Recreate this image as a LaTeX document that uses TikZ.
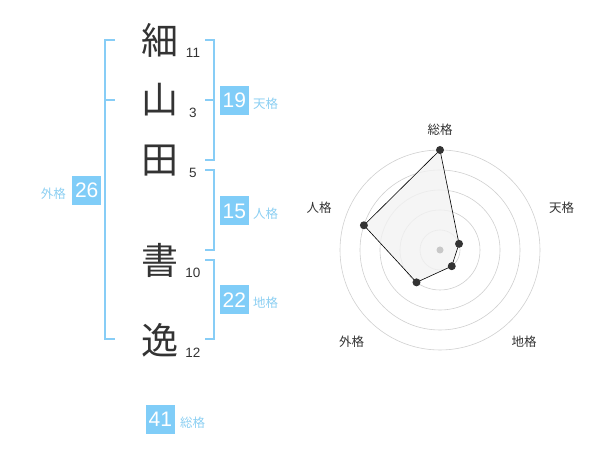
\documentclass[tikz,border=0pt]{standalone}
\usepackage{fontspec}
\setmainfont{Liberation Sans}
\newfontfamily\jp{Noto Sans CJK JP}
\usepackage{tikz}
\usetikzlibrary{positioning}

\definecolor{textgray}{HTML}{333333}
\definecolor{boxblue}{HTML}{80CDF8}
\definecolor{lblblue}{HTML}{8CCFF2}
\definecolor{brblue}{HTML}{87CDF6}
\definecolor{ringgray}{HTML}{CFCFCF}
\definecolor{fillgray}{HTML}{F2F2F2}
\definecolor{dotgray}{HTML}{C8C8C8}

\tikzset{
  kanji/.style={text=textgray, inner sep=0pt, font=\jp\fontsize{37}{37}\selectfont},
  strokes/.style={text=textgray, inner sep=0pt, font=\fontsize{13.5}{13.5}\selectfont},
  scorebox/.style={fill=boxblue, text=white, minimum size=29pt, inner sep=0pt, font=\fontsize{21}{21}\selectfont},
  scorelabel/.style={text=lblblue, inner sep=0pt, font=\jp\fontsize{12.5}{12.5}\selectfont},
  bracket/.style={draw=brblue, line width=2pt},
  ring/.style={draw=ringgray, line width=0.6pt},
  axislabel/.style={text=textgray, inner sep=0pt, font=\jp\fontsize{12.5}{12.5}\selectfont},
  score/.style={circle, fill=textgray, minimum size=8pt, inner sep=0pt},
}

\begin{document}
\begin{tikzpicture}[x=1pt,y=1pt]
  \useasboundingbox (0,0) rectangle (600,470);

  % name, one character a row, stroke count beside it
  \foreach \ch/\y/\num/\ny [count=\i] in {細/430/11/417, 山/370/3/357, 田/309/5/297, 書/210/10/197, 逸/130/12/117}{
    \node[kanji] (c\i) at (160,\y) {\ch};
    \node[strokes] (n\i) at (193,\ny) {\num};
  }

  % brackets
  \draw[bracket] (115,430)--(105,430)--(105,131)--(115,131);
  \draw[bracket] (105,370)--(115,370);
  \draw[bracket] (205,430)--(214,430)--(214,310)--(205,310);
  \draw[bracket] (205,370)--(214,370);
  \draw[bracket] (205,300)--(214,300)--(214,220)--(205,220);
  \draw[bracket] (205,210)--(214,210)--(214,131)--(205,131);

  % scores
  \node[scorebox] (gai) at (86.7,279.5) {26};
  \node[scorelabel, left=6pt of gai, yshift=-3pt] (gailbl) {外格};
  \node[scorebox] (ten) at (234.3,369.7) {19};
  \node[scorelabel, right=4pt of ten, yshift=-3pt] (tenlbl) {天格};
  \node[scorebox] (jin) at (234.3,259) {15};
  \node[scorelabel, right=4pt of jin, yshift=-3pt] (jinlbl) {人格};
  \node[scorebox] (chi) at (234.3,170) {22};
  \node[scorelabel, right=4pt of chi, yshift=-3pt] (chilbl) {地格};
  \node[scorebox] (sou) at (160.3,50.7) {41};
  \node[scorelabel, right=5pt of sou, yshift=-3pt] (soulbl) {総格};

  % radar chart
  \begin{scope}[shift={(440,220)}]
    \foreach \r in {20,40,60,80,100}
      \draw[ring] (0,0) circle (\r pt);

    \coordinate (rsou) at (90:100pt);
    \coordinate (rten) at (18:20pt);
    \coordinate (rchi) at (-54:20pt);
    \coordinate (rgai) at (-126:40pt);
    \coordinate (rjin) at (162:80pt);
    \filldraw[fill=fillgray, fill opacity=0.8, draw=black, line width=0.6pt]
      (rsou)--(rten)--(rchi)--(rgai)--(rjin)--cycle;
    \fill[dotgray] (0,0) circle (3.5pt);
    \foreach \p in {rsou,rten,rchi,rgai,rjin}
      \node[score] (\p dot) at (\p) {};

    \node[axislabel] (asou) at (0,120) {総格};
    \node[axislabel] (aten) at (121.7,42) {天格};
    \node[axislabel] (ajin) at (-121,42) {人格};
    \node[axislabel] (agai) at (-88.3,-91.7) {外格};
    \node[axislabel] (achi) at (84,-92) {地格};
  \end{scope}
\end{tikzpicture}
\end{document}
